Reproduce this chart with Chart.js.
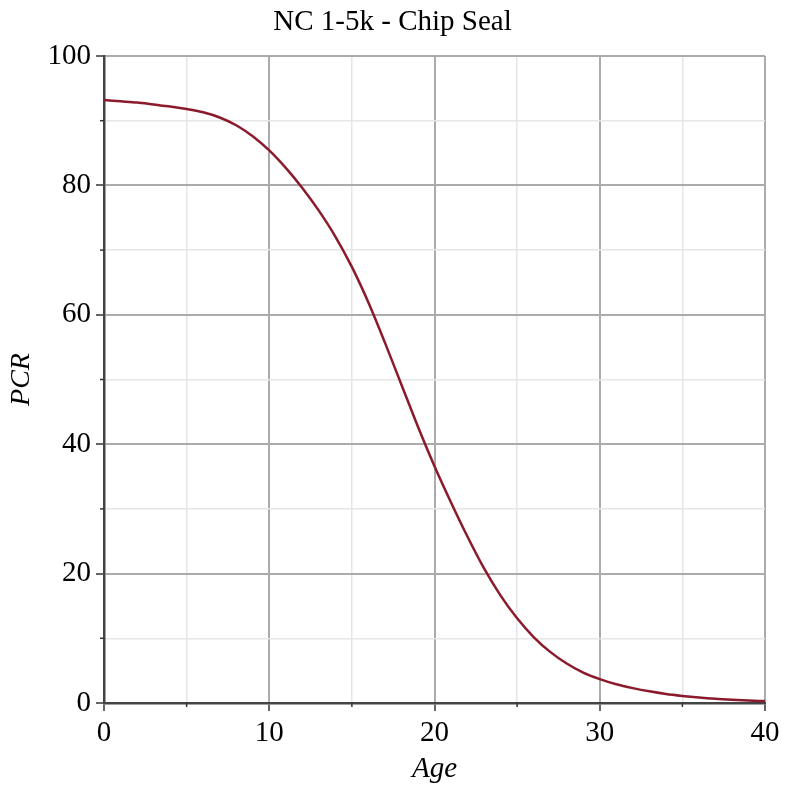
<!DOCTYPE html>
<html>
<head>
<meta charset="utf-8">
<title>NC 1-5k - Chip Seal</title>
<script src="https://cdn.jsdelivr.net/npm/chart.js@4.4.1/dist/chart.umd.min.js"></script>
<style>
  html, body { margin: 0; padding: 0; background: #fff; }
  #wrap { width: 785px; height: 787px; }
</style>
</head>
<body>
<div id="wrap"><canvas id="pcrChart" width="785" height="787"></canvas></div>
<script>
// values, one per year of age
const ages = [0, 1, 2, 3, 4, 5, 6, 7, 8, 9, 10, 11, 12, 13, 14, 15, 16, 17, 18, 19, 20,
              21, 22, 23, 24, 25, 26, 27, 28, 29, 30, 31, 32, 33, 34, 35, 36, 37, 38, 39, 40];
const pcr = [93.2, 93.0, 92.8, 92.5, 92.2, 91.8, 91.3, 90.5, 89.3, 87.6, 85.4,
             82.7, 79.6, 76.1, 72.1, 67.4, 61.9, 55.7, 49.2, 42.7, 36.6,
             31.0, 25.7, 20.8, 16.6, 13.1, 10.2, 7.9, 6.1, 4.7, 3.7,
             2.9, 2.3, 1.8, 1.4, 1.1, 0.85, 0.65, 0.5, 0.38, 0.3];
const xTicks = [0, 10, 20, 30, 40];
const yTicks = [0, 20, 40, 60, 80, 100];

const serif = "'Liberation Serif', 'Times New Roman', serif";
const majorGrid = '#ababab';
const minorGrid = '#e6e6e6';

// short marks for the minor ticks (5, 15, ... on x; 10, 30, ... on y)
const minorTicks = {
    id: 'minorTicks',
    afterDraw(chart) {
        const ctx = chart.ctx;
        const xs = chart.scales.x, ys = chart.scales.y;
        ctx.save();
        ctx.strokeStyle = '#333';
        ctx.lineWidth = 1.5;
        xs.ticks.forEach(t => {
            if (xTicks.includes(t.value)) return;
            const px = xs.getPixelForValue(t.value);
            ctx.beginPath();
            ctx.moveTo(px, ys.bottom);
            ctx.lineTo(px, ys.bottom + 4);
            ctx.stroke();
        });
        ys.ticks.forEach(t => {
            if (yTicks.includes(t.value)) return;
            const py = ys.getPixelForValue(t.value);
            ctx.beginPath();
            ctx.moveTo(xs.left, py);
            ctx.lineTo(xs.left - 4, py);
            ctx.stroke();
        });
        ctx.restore();
    }
};

const ctx = document.getElementById('pcrChart').getContext('2d');
new Chart(ctx, {
    type: 'line',
    data: {
        datasets: [{
            label: 'PCR',
            data: ages.map((a, i) => ({ x: a, y: pcr[i] })),
            borderColor: '#8b1a2c',
            borderWidth: 2.5,
            pointRadius: 0,
            fill: false,
            cubicInterpolationMode: 'monotone'
        }]
    },
    options: {
        responsive: false,
        animation: false,
        // equal side padding keeps the title centred on the canvas
        layout: { padding: { left: 20, right: 20, top: 0, bottom: 0 } },
        plugins: {
            legend: { display: false },
            tooltip: { enabled: false },
            title: {
                display: true,
                text: 'NC 1-5k - Chip Seal',
                color: '#000',
                font: { family: serif, size: 29, weight: 'normal' },
                padding: { top: 5, bottom: 16.2 }
            }
        },
        scales: {
            x: {
                type: 'linear',
                min: 0,
                max: 40,
                afterFit: s => { s.height = 84; },
                ticks: {
                    stepSize: 5,
                    color: '#000',
                    padding: 5,
                    maxRotation: 0,
                    font: { family: serif, size: 29 },
                    callback: v => xTicks.includes(v) ? String(v) : ''
                },
                grid: {
                    color: c => xTicks.includes(c.tick.value) ? majorGrid : minorGrid,
                    lineWidth: c => xTicks.includes(c.tick.value) ? 2 : 1.5,
                    tickColor: c => xTicks.includes(c.tick.value) ? '#333' : 'rgba(0,0,0,0)',
                    tickLength: 8,
                    tickWidth: 1.5
                },
                border: { color: '#444', width: 2.5 },
                title: {
                    display: true,
                    text: 'Age',
                    color: '#000',
                    font: { family: serif, size: 29, style: 'italic' },
                    padding: { top: 0, bottom: 0 }
                }
            },
            y: {
                min: 0,
                max: 100,
                afterFit: s => { s.width = 84; },
                ticks: {
                    stepSize: 10,
                    color: '#000',
                    padding: 5,
                    font: { family: serif, size: 29 },
                    callback: v => yTicks.includes(v) ? String(v) : ''
                },
                grid: {
                    color: c => yTicks.includes(c.tick.value) ? majorGrid : minorGrid,
                    lineWidth: c => yTicks.includes(c.tick.value) ? 2 : 1.5,
                    tickColor: c => yTicks.includes(c.tick.value) ? '#333' : 'rgba(0,0,0,0)',
                    tickLength: 8,
                    tickWidth: 1.5
                },
                border: { color: '#444', width: 2.5 },
                title: {
                    display: true,
                    text: 'PCR',
                    color: '#000',
                    font: { family: serif, size: 28, style: 'italic' },
                    padding: { top: -15, bottom: 0 }
                }
            }
        }
    },
    plugins: [minorTicks]
});
</script>
</body>
</html>
